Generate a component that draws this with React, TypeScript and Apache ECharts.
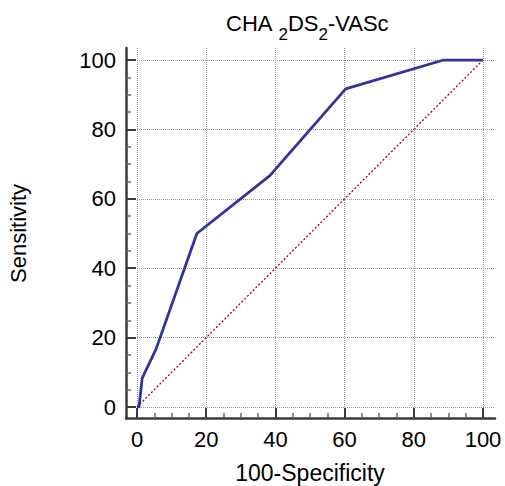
import React, { useEffect, useRef } from "react";
import * as echarts from "echarts";

// ROC curve points (100-Specificity, Sensitivity)
const specComplement = [0, 0.6, 1.5, 5.5, 17.3, 38.4, 60.3, 88.6, 100];
const sensitivity = [0, 0, 8.33, 16.67, 50, 66.67, 91.67, 100, 100];
const diagonalX = [0, 100];
const diagonalY = [0, 100];
const tickLabels = [0, 20, 40, 60, 80, 100];

const FONT = "Liberation Sans, Arial, sans-serif";

export default function App() {
  const ref = useRef<HTMLDivElement>(null);
  useEffect(() => {
    if (!ref.current) return;
    const chart = echarts.init(ref.current, undefined, { renderer: "svg" });
    const left = 137, top = 60, plotW = 346, plotH = 347;
    const ext = 12, off = 11;
    const xMaxExt = (100 * (plotW + ext)) / plotW;
    const yMaxExt = (100 * (plotH + ext)) / plotH;
    const axisColor = "#3a3a3a";
    const curve = specComplement.map((x, i) => [x, sensitivity[i]]);
    const diag = diagonalX.map((x, i) => [x, diagonalY[i]]);
    const labelFmt = (v: number) => (tickLabels.includes(v) ? String(v) : "");
    const hidden = {
      axisLine: { show: false }, axisTick: { show: false }, axisLabel: { show: false }, splitLine: { show: false },
    };
    const tickAxis = {
      type: "value", min: 0, max: 100, interval: 20,
      axisLine: { show: false },
      axisTick: { show: true, inside: true, length: 10, lineStyle: { color: axisColor, width: 2 } },
      minorTick: { show: true, splitNumber: 4, length: 5, lineStyle: { color: "#666", width: 1.5 } },
      axisLabel: { fontFamily: FONT, fontSize: 22, color: "#000", margin: 10, formatter: labelFmt },
      splitLine: { show: false },
    };
    const g = (o: any) => ({ ...o, outerBoundsMode: "none", containLabel: false });

    chart.setOption({
      animation: false,
      backgroundColor: "#fff",
      title: {
        text: "{m|CHA}{s1|2}{m|DS}{s|2}{m|-VASc}",
        left: 221,
        top: 7,
        textStyle: {
          fontFamily: FONT,
          fontSize: 22,
          fontWeight: "normal",
          color: "#000",
          rich: {
            m: { fontFamily: FONT, fontSize: 22, color: "#000", verticalAlign: "top" },
            s1: { fontFamily: FONT, fontSize: 17, color: "#000", padding: [14, 0, 0, 6], verticalAlign: "top" },
            s: { fontFamily: FONT, fontSize: 17, color: "#000", padding: [14, 0, 0, 0], verticalAlign: "top" },
          },
        },
      },
      grid: [
        g({ left, top, width: plotW, height: plotH }),
        g({ left, top: top - ext, width: plotW + ext, height: plotH + ext }),
        g({ left: left - off, top: top - ext, width: plotW + ext + off, height: plotH + ext + off }),
        g({ left: left - off, top, width: plotW, height: plotH }),
        g({ left, top: top + off, width: plotW, height: plotH }),
      ],
      xAxis: [
        { gridIndex: 0, type: "value", min: 0, max: 100, ...hidden },
        {
          gridIndex: 1, type: "value", min: 0, max: xMaxExt, interval: 20,
          axisLine: { show: false }, axisTick: { show: false }, axisLabel: { show: false },
          splitLine: { show: true, showMaxLine: false, lineStyle: { color: "#999", type: "dotted", width: 1 } },
        },
        {
          gridIndex: 2, type: "value", min: 0, max: 1, ...hidden,
          axisLine: { show: true, lineStyle: { color: axisColor, width: 2.5 } },
        },
        { gridIndex: 3, type: "value", min: 0, max: 100, ...hidden },
        {
          gridIndex: 4, ...tickAxis,
          name: "100-Specificity", nameLocation: "middle", nameGap: 43, nameMoveOverlap: false,
          nameTextStyle: { fontFamily: FONT, fontSize: 23, color: "#000" },
        },
      ],
      yAxis: [
        { gridIndex: 0, type: "value", min: 0, max: 100, ...hidden },
        {
          gridIndex: 1, type: "value", min: 0, max: yMaxExt, interval: 20,
          axisLine: { show: false }, axisTick: { show: false }, axisLabel: { show: false },
          splitLine: { show: true, showMaxLine: false, lineStyle: { color: "#999", type: "dotted", width: 1 } },
        },
        {
          gridIndex: 2, type: "value", min: 0, max: 1, ...hidden,
          axisLine: { show: true, lineStyle: { color: axisColor, width: 2.5 } },
        },
        {
          gridIndex: 3, ...tickAxis,
          name: "Sensitivity", nameLocation: "middle", nameGap: 97, nameMoveOverlap: false,
          nameTextStyle: { fontFamily: FONT, fontSize: 22, color: "#000" },
        },
        { gridIndex: 4, type: "value", min: 0, max: 100, ...hidden },
      ],
      series: [
        {
          type: "line", xAxisIndex: 0, yAxisIndex: 0, data: diag, showSymbol: false, symbol: "none",
          lineStyle: { color: "#a00010", width: 1.3, type: [2, 2] }, z: 3,
        },
        {
          type: "line", xAxisIndex: 0, yAxisIndex: 0, data: curve, showSymbol: false, symbol: "none",
          lineStyle: { color: "#33339a", width: 2.8 }, z: 4,
        },
      ],
    });
    return () => chart.dispose();
  }, []);
  return <div ref={ref} style={{ width: 505, height: 486, position: "absolute", left: 0, top: 0 }} />;
}
